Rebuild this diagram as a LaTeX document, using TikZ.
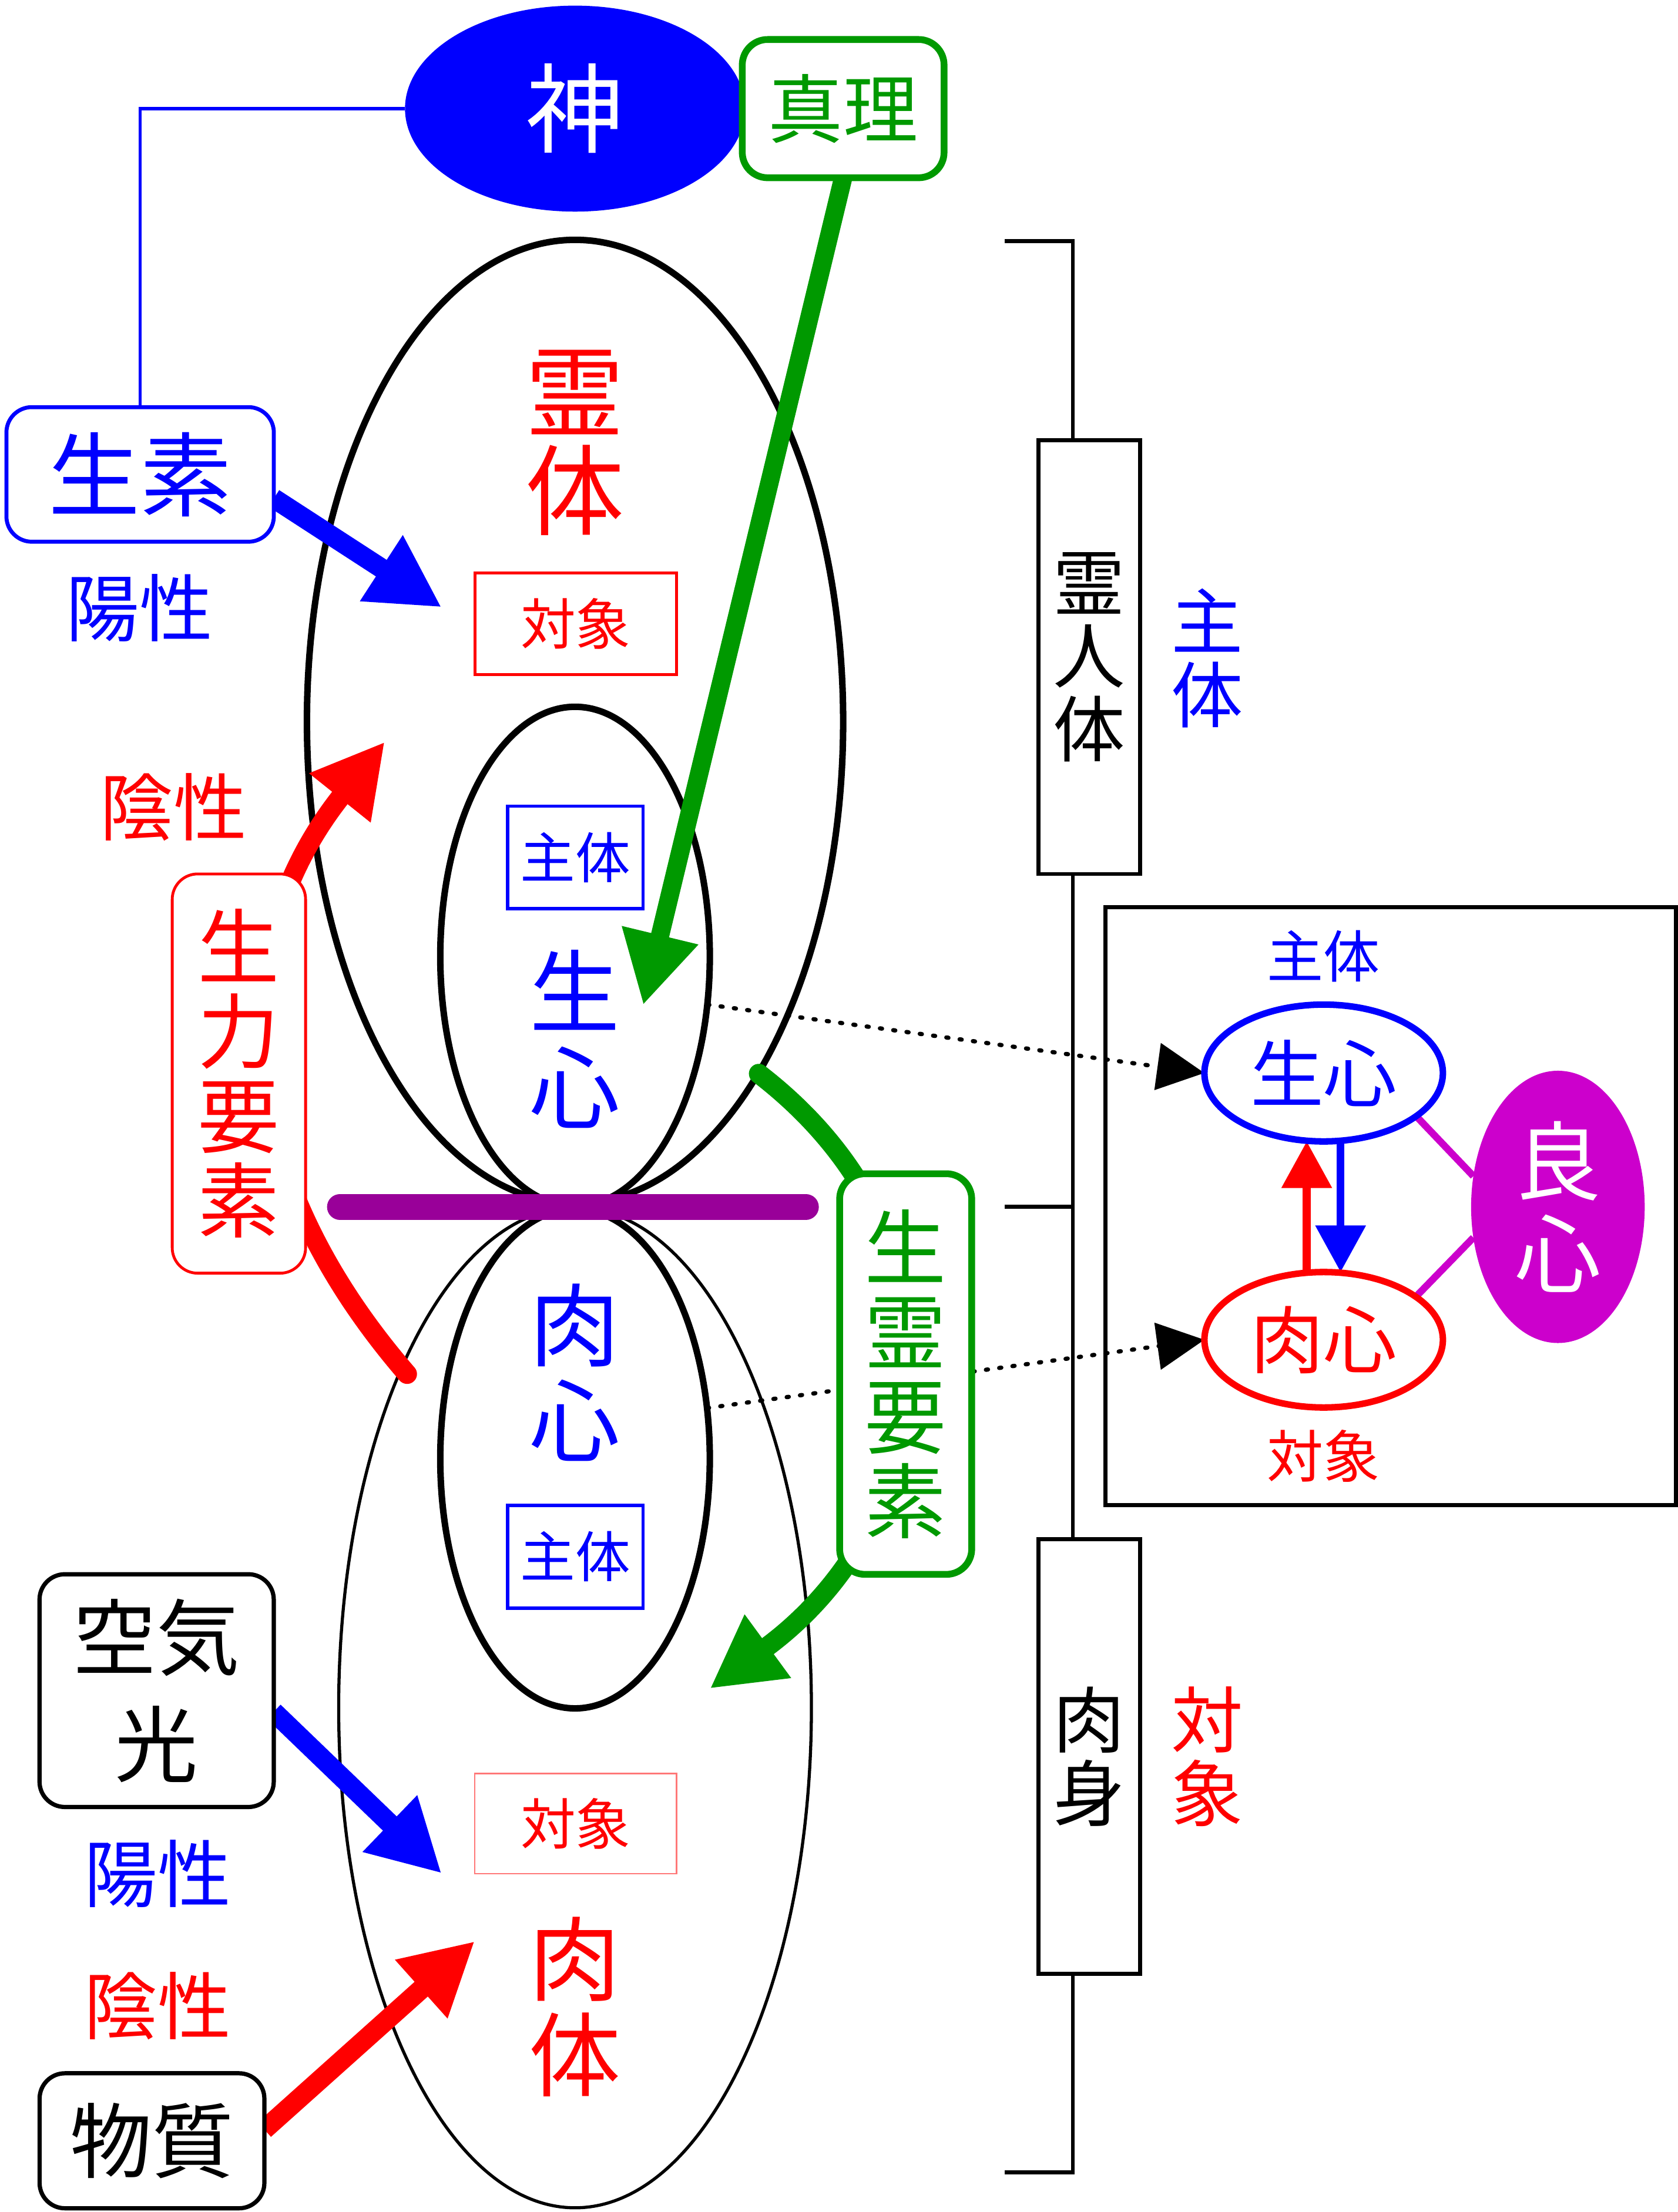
\documentclass[tikz,border=0pt]{standalone}
\usepackage{fontspec}
\setmainfont{Noto Sans CJK JP}
\usetikzlibrary{shapes.geometric,arrows.meta,calc}
\pgfdeclarelayer{back}
\pgfdeclarelayer{mid}
\pgfsetlayers{back,mid,main}
\definecolor{cblue}{RGB}{0,0,255}
\definecolor{cred}{RGB}{255,0,0}
\definecolor{cgreen}{RGB}{0,153,0}
\definecolor{cpurple}{RGB}{153,0,153}
\definecolor{cmagenta}{RGB}{204,0,204}
\definecolor{cpink}{RGB}{255,120,120}
\newcommand\myfs[2]{\fontsize{#1pt}{#2pt}\selectfont}
\begin{document}
\begin{tikzpicture}[x=1pt,y=-1pt,
  txt/.style={inner sep=0pt, outer sep=0pt, align=center},
  ell/.style={ellipse, inner sep=0pt, outer sep=0pt, draw=black},
  rbox/.style={rectangle, rounded corners=18pt, inner sep=0pt, outer sep=0pt, fill=white, align=center},
  sbox/.style={rectangle, inner sep=0pt, outer sep=0pt, fill=white, align=center},
  bigarrow/.style={line width=14pt, -{Triangle[length=51pt,width=52pt]}},
  smallarrow/.style={line width=5.5pt, -{Triangle[length=33pt,width=34.5pt]}},
  dotarrow/.style={line width=3pt, line cap=round, dash pattern=on 1.5pt off 8pt, -{Triangle[length=33.5pt,width=33pt]}},
]
\useasboundingbox (0,0) rectangle (1189,1568);

% ---------- back layer: ellipses and bracket ----------
\begin{pgfonlayer}{back}
\fill[white] (0,0) rectangle (1189,1568);
\node[ell, line width=4.6pt, minimum width=380pt, minimum height=683pt] (ubig) at (407.5,511.5) {};
\node[ell, line width=4.6pt, minimum width=191pt, minimum height=354pt] (uin) at (407.5,678) {};
\node[ell, line width=2.2pt, minimum width=335pt, minimum height=709pt] (lbig) at (407.5,1210.5) {};
\node[ell, line width=4.6pt, minimum width=191pt, minimum height=354pt] (lin) at (407.5,1034) {};
\coordinate (bt0) at (712,171);
\coordinate (bt1) at (760.3,171);
\coordinate (bb1) at (760.3,1540);
\coordinate (bb0) at (712,1540);
\coordinate (bm0) at (712,855.4);
\coordinate (bm1) at (760.3,855.4);
\draw[line width=2.8pt] (bt0) -- (bt1) -- (bb1) -- (bb0);
\draw[line width=2.8pt] (bm0) -- (bm1);
\end{pgfonlayer}

% ---------- main nodes ----------
\node[ellipse, fill=cblue, inner sep=0pt, outer sep=0pt, minimum width=241pt, minimum height=146pt,
      text=white, font=\myfs{69}{69}] (god) at (407.5,77) {神};
\node[rbox, draw=cgreen, line width=4.8pt, minimum width=143pt, minimum height=98pt,
      text=cgreen, font=\myfs{53}{53}] (truth) at (597.5,77) {真理};
\node[rbox, draw=cblue, line width=2.8pt, minimum width=189.5pt, minimum height=95.4pt,
      text=cblue, font=\myfs{65}{65}] (seiso) at (99.3,336.3) {生素};
\node[txt, text=cblue, font=\myfs{52}{52}] (yo1) at (99,431) {陽性};
\node[txt, text=cred, font=\myfs{52}{52}] (in1) at (123,572) {陰性};

\node[txt, text=cred, font=\myfs{70}{70}] (reitai) at (407.5,313.8) {霊\\体};
\node[sbox, draw=cred, line width=2.2pt, minimum width=143pt, minimum height=72pt,
      text=cred, font=\myfs{39}{39}] (tai1) at (408,442.2) {対象};
\node[sbox, draw=cblue, line width=2.4pt, minimum width=96pt, minimum height=72.6pt,
      text=cblue, font=\myfs{39}{39}] (shu1) at (407.7,607.7) {主体};
\node[txt, text=cblue, font=\myfs{64}{68}] (seishin) at (407.5,736.5) {生\\心};
\node[txt, text=cblue, font=\myfs{64}{68}] (nikushin) at (407.5,972.8) {肉\\心};
\node[sbox, draw=cblue, line width=2.4pt, minimum width=96pt, minimum height=73pt,
      text=cblue, font=\myfs{39}{39}] (shu2) at (407.7,1103.5) {主体};
\node[sbox, draw=cpink, line width=1pt, minimum width=143pt, minimum height=71pt,
      text=cred, font=\myfs{39}{39}] (tai2) at (408,1292.7) {対象};
\node[txt, text=cred, font=\myfs{65}{68}] (nikutai) at (407.5,1422.5) {肉\\体};

\node[rbox, draw=cred, line width=2pt, minimum width=94.5pt, minimum height=283pt,
      text=cred, font=\myfs{58}{60}] (seiryoku) at (169.3,761) {生\\力\\要\\素};
\node[rbox, draw=cgreen, line width=4.8pt, minimum width=93.6pt, minimum height=284pt,
      text=cgreen, font=\myfs{58}{60}] (seirei) at (641.8,974) {生\\霊\\要\\素};

\node[rbox, draw=black, line width=3pt, minimum width=166pt, minimum height=165pt,
      font=\myfs{59}{76}] (kuuki) at (111,1198.4) {空気\\光};
\node[txt, text=cblue, font=\myfs{52}{52}] (yo2) at (111.7,1328) {陽性};
\node[txt, text=cred, font=\myfs{52}{52}] (in2) at (111.7,1422) {陰性};
\node[rbox, draw=black, line width=3pt, minimum width=159.3pt, minimum height=95.7pt,
      font=\myfs{58}{58}] (bussh) at (107.7,1517.5) {物質};

\node[sbox, draw=black, line width=2.8pt, minimum width=72pt, minimum height=307.5pt,
      font=\myfs{51}{52}] (reijin) at (772,465.8) {霊\\人\\体};
\node[sbox, draw=black, line width=2.8pt, minimum width=72pt, minimum height=308pt,
      font=\myfs{51}{52}] (nikushn) at (772,1245) {肉\\身};
\node[txt, text=cblue, font=\myfs{51}{52}] (shu3) at (855.5,466.7) {主\\体};
\node[txt, text=cred, font=\myfs{51}{52}] (tai3) at (855.5,1245.3) {対\\象};

\node[rectangle, draw=black, line width=2.8pt, inner sep=0pt, outer sep=0pt,
      minimum width=404pt, minimum height=424pt] (rbx) at (985.5,855) {};
\node[txt, text=cblue, font=\myfs{40}{40}] (shu4) at (938,678) {主体};
\node[ell, draw=cblue, line width=4.6pt, minimum width=169pt, minimum height=97pt,
      text=cblue, font=\myfs{52}{52}] (ssh) at (938,760.6) {生心};
\node[ell, draw=cred, line width=4.6pt, minimum width=169pt, minimum height=96pt,
      text=cred, font=\myfs{52}{52}] (snk) at (938,949.7) {肉心};
\node[txt, text=cred, font=\myfs{40}{40}] (tai4) at (938,1032) {対象};
\node[ellipse, fill=cmagenta, inner sep=0pt, outer sep=0pt, minimum width=123pt, minimum height=193pt,
      align=center, text=white, font=\myfs{61}{66}] (ryo) at (1104,855.5) {良\\心};

% ---------- connectors ----------
\coordinate (gtip1) at (455.8,712.5);
\coordinate (btip1) at (313,430.5);
\coordinate (btip2) at (313,1328);
\coordinate (rtip2) at (336.5,1376);
\coordinate (rtip1) at (272.7,525.8);
\coordinate (rend) at (288.5,974);
\coordinate (gstart) at (537.7,761.1);
\coordinate (gtip2) at (503,1197);
\coordinate (barL) at (241,855.5);
\coordinate (barR) at (571,855.5);

\begin{pgfonlayer}{mid}
\draw[cblue, line width=2.4pt] (god.west) -| (seiso.north);
\draw[cpurple, line width=18.5pt, line cap=round] (barL) -- (barR);
\draw[cgreen, bigarrow, line width=13pt] (truth.south) -- (gtip1);
\draw[cblue, bigarrow] ([yshift=-17pt]seiso.east) -- (btip1);
\draw[cblue, bigarrow] ([yshift=-15pt]kuuki.east) -- (btip2);
\draw[cred, bigarrow] ([yshift=8pt]bussh.east) -- (rtip2);
\draw[cred, bigarrow, line cap=round] (rend) .. controls (157.7,822.6) and (160.2,666.4) .. (rtip1);
\draw[cgreen, bigarrow, line cap=round] (gstart) .. controls (696,883) and (664.4,1079) .. (gtip2);
\draw[dotarrow] (uin.-20.7) -- (ssh.west);
\draw[dotarrow] (lin.21.8) -- (snk.west);
\draw[cred, smallarrow] ([xshift=-12pt]snk.north) -- ([xshift=-12pt]ssh.south);
\draw[cblue, smallarrow] ([xshift=12pt]ssh.south) -- ([xshift=12pt]snk.north);
\draw[cmagenta, line width=5pt] (ssh.-25) -- (ryo.160.6);
\draw[cmagenta, line width=5pt] (snk.25) -- (ryo.-160.8);
\end{pgfonlayer}
\end{tikzpicture}
\end{document}
